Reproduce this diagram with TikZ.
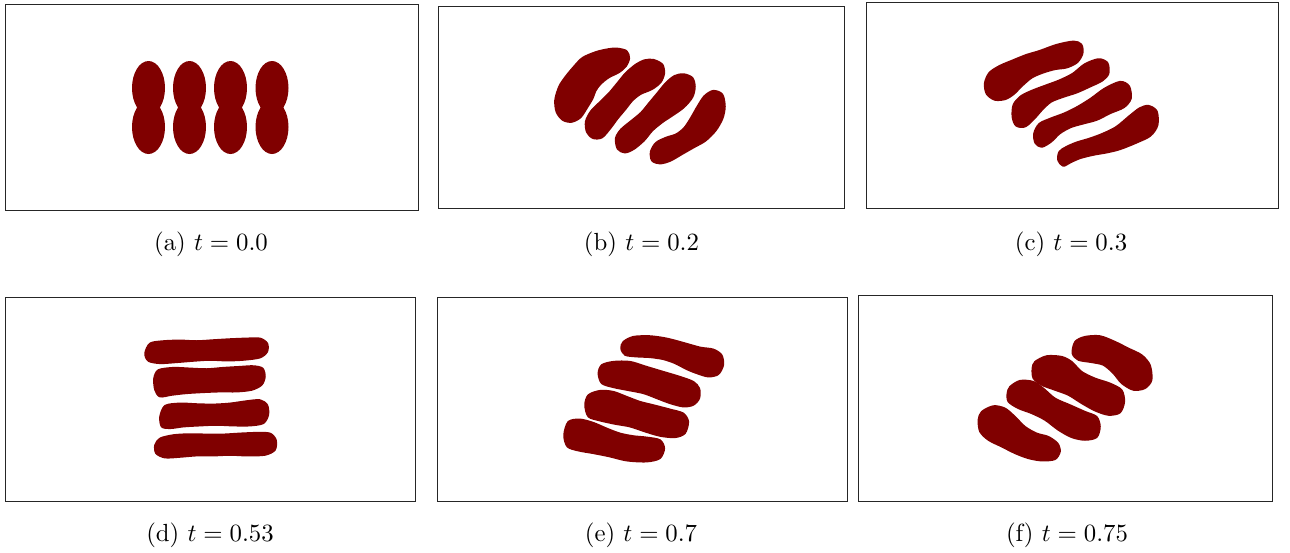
\documentclass[tikz,border=0pt]{standalone}
\begin{document}
\definecolor{blobred}{RGB}{128,0,0}
\begin{tikzpicture}[x=1pt,y=-1pt,
  frame/.style={draw=black!85,line width=1pt},
  blob/.style={fill=blobred,draw=blobred,line join=round,line width=1.5pt},
  fatblob/.style={blob,line width=3.5pt},
  captext/.style={anchor=base,inner sep=0pt,font=\fontsize{10}{12}\selectfont,scale=2.48,transform shape},
  zoomed/.style={x=0.33333pt,y=-0.33333pt}]
\useasboundingbox (0,0) rectangle (1290,552);
% frames
\draw[frame] (5,4) rectangle (418,210);
\draw[frame] (438,6) rectangle (844,208);
\draw[frame] (866,2) rectangle (1278,208);
\draw[frame] (5,297) rectangle (415,501);
\draw[frame] (437,297) rectangle (847,501);
\draw[frame] (858,295) rectangle (1272,501);
% (a) peanuts
\foreach \cx in {148.5,189.5,230.5,272}{
  \fill[blobred] (\cx,88) ellipse [x radius=16.5pt, y radius=27pt]
              (\cx,127) ellipse [x radius=16.5pt, y radius=27pt];
}
% (b)
\begin{scope}[xshift=550pt,yshift=-40pt,zoomed]
\filldraw[fatblob] plot[smooth cycle] coordinates {(200,28) (228,35) (235,55) (225,78) (205,95) (175,110) (150,130) (135,150) (125,175) (110,200) (90,230) (65,243) (40,238) (22,215) (18,180) (30,140) (50,110) (75,80) (100,55) (140,38) (175,30)};
\filldraw[fatblob] plot[smooth cycle] coordinates {(310,62) (335,75) (340,100) (330,125) (305,145) (270,160) (245,180) (225,205) (200,235) (180,262) (155,290) (130,292) (113,275) (110,245) (125,215) (155,185) (180,160) (205,130) (230,100) (260,75) (285,63)};
\filldraw[fatblob] plot[smooth cycle] coordinates {(400,105) (425,115) (432,140) (425,170) (400,200) (365,225) (335,245) (305,270) (280,300) (250,325) (225,335) (205,325) (200,295) (215,270) (245,245) (275,220) (300,190) (325,160) (350,130) (375,110)};
\filldraw[fatblob] plot[smooth cycle] coordinates {(490,155) (515,165) (522,200) (515,235) (495,270) (465,300) (430,320) (395,340) (360,360) (330,368) (308,360) (305,335) (320,310) (350,295) (380,285) (405,265) (425,235) (445,200) (465,170)};
\end{scope}
% (c)
\begin{scope}[xshift=980pt,yshift=-35pt,zoomed]
\filldraw[fatblob] plot[smooth cycle] coordinates {(280,22) (302,30) (305,55) (290,80) (260,95) (225,100) (190,110) (155,125) (125,150) (100,175) (75,190) (45,192) (22,175) (17,145) (30,115) (60,95) (100,78) (140,62) (180,50) (230,32)};
\filldraw[fatblob] plot[smooth cycle] coordinates {(355,75) (380,85) (383,115) (365,135) (330,152) (290,170) (250,183) (212,198) (185,222) (162,248) (135,272) (110,270) (100,245) (103,210) (125,185) (160,168) (200,153) (240,138) (280,118) (315,90)};
\filldraw[fatblob] plot[smooth cycle] coordinates {(420,143) (445,155) (450,190) (430,215) (390,232) (350,252) (310,263) (272,274) (238,293) (212,318) (185,333) (168,322) (165,295) (180,268) (215,252) (255,237) (295,217) (335,192) (375,163)};
\filldraw[fatblob] plot[smooth cycle] coordinates {(505,215) (528,230) (530,270) (510,300) (470,320) (420,340) (380,350) (340,357) (300,367) (270,380) (250,390) (237,375) (240,352) (260,338) (290,325) (330,313) (370,298) (410,278) (450,245) (480,222)};
\end{scope}
% (d)
\begin{scope}[xshift=140pt,yshift=-335pt,zoomed]
\filldraw[blob] plot[smooth cycle] coordinates {(30,25) (70,18) (120,16) (170,18) (220,15) (270,12) (320,10) (360,10) (382,25) (382,50) (360,68) (310,75) (260,77) (210,75) (160,78) (110,82) (60,85) (25,78) (15,55)};
\filldraw[blob] plot[smooth cycle] coordinates {(55,105) (100,98) (150,100) (200,102) (250,98) (300,95) (340,93) (368,100) (375,125) (365,150) (335,165) (290,170) (240,170) (190,172) (140,175) (95,180) (60,185) (45,165) (42,130)};
\filldraw[blob] plot[smooth cycle] coordinates {(75,212) (120,205) (170,207) (220,208) (270,205) (320,198) (360,195) (382,210) (385,240) (370,265) (330,272) (280,272) (230,270) (180,272) (130,275) (90,280) (65,275) (60,245)};
\filldraw[blob] plot[smooth cycle] coordinates {(60,310) (100,300) (150,297) (200,298) (250,298) (300,295) (350,293) (390,295) (408,315) (405,345) (375,360) (320,362) (270,360) (220,362) (170,362) (120,366) (75,368) (48,355) (45,330)};
\end{scope}
% (e)
\begin{scope}[xshift=560pt,yshift=-330pt,zoomed]
\filldraw[blob] plot[smooth cycle] coordinates {(190,35) (220,20) (270,18) (320,25) (370,38) (420,52) (460,58) (485,75) (490,105) (475,133) (445,140) (410,130) (380,118) (345,100) (310,88) (270,82) (230,80) (195,75) (183,55)};
\filldraw[blob] plot[smooth cycle] coordinates {(125,105) (160,95) (210,95) (260,110) (310,125) (360,140) (400,155) (418,175) (418,205) (400,225) (370,230) (330,220) (290,205) (250,190) (200,180) (160,172) (125,160) (115,130)};
\filldraw[blob] plot[smooth cycle] coordinates {(85,195) (120,182) (160,185) (200,200) (240,215) (280,225) (330,238) (370,250) (385,275) (375,310) (345,322) (300,318) (255,305) (210,290) (165,282) (120,272) (85,260) (75,225)};
\filldraw[blob] plot[smooth cycle] coordinates {(25,275) (60,268) (100,278) (140,295) (180,310) (220,318) (260,322) (300,330) (313,355) (300,385) (260,395) (200,392) (150,380) (100,370) (55,362) (22,350) (12,315)};
\end{scope}
% (f)
\begin{scope}[xshift=975pt,yshift=-330pt,zoomed]
\filldraw[blob] plot[smooth cycle] coordinates {(300,35) (330,20) (375,18) (420,35) (460,55) (500,75) (525,105) (530,150) (510,175) (475,180) (440,160) (415,130) (385,105) (350,97) (310,90) (292,70)};
\filldraw[blob] plot[smooth cycle] coordinates {(180,95) (215,78) (260,80) (290,95) (320,125) (360,145) (405,160) (440,180) (448,215) (435,248) (400,255) (360,242) (320,220) (280,195) (240,180) (200,165) (175,145) (172,115)};
\filldraw[blob] plot[smooth cycle] coordinates {(105,170) (135,152) (175,155) (205,175) (240,205) (285,225) (330,245) (365,260) (375,290) (365,322) (330,330) (290,322) (250,300) (210,270) (170,250) (130,235) (100,215) (97,190)};
\filldraw[blob] plot[smooth cycle] coordinates {(20,245) (55,228) (90,235) (120,260) (150,290) (185,310) (220,320) (248,340) (255,365) (240,388) (200,392) (160,385) (120,370) (80,350) (40,330) (15,305) (10,270)};
\end{scope}
% captions
\node[captext] (capa) at (211,250) {(a) $t=0.0$};
\node[captext] (capb) at (641.5,250) {(b) $t=0.2$};
\node[captext] (capc) at (1071,250) {(c) $t=0.3$};
\node[captext] (capd) at (210,541) {(d) $t=0.53$};
\node[captext] (cape) at (641,541) {(e) $t=0.7$};
\node[captext] (capf) at (1067,541) {(f) $t=0.75$};
\end{tikzpicture}
\end{document}
